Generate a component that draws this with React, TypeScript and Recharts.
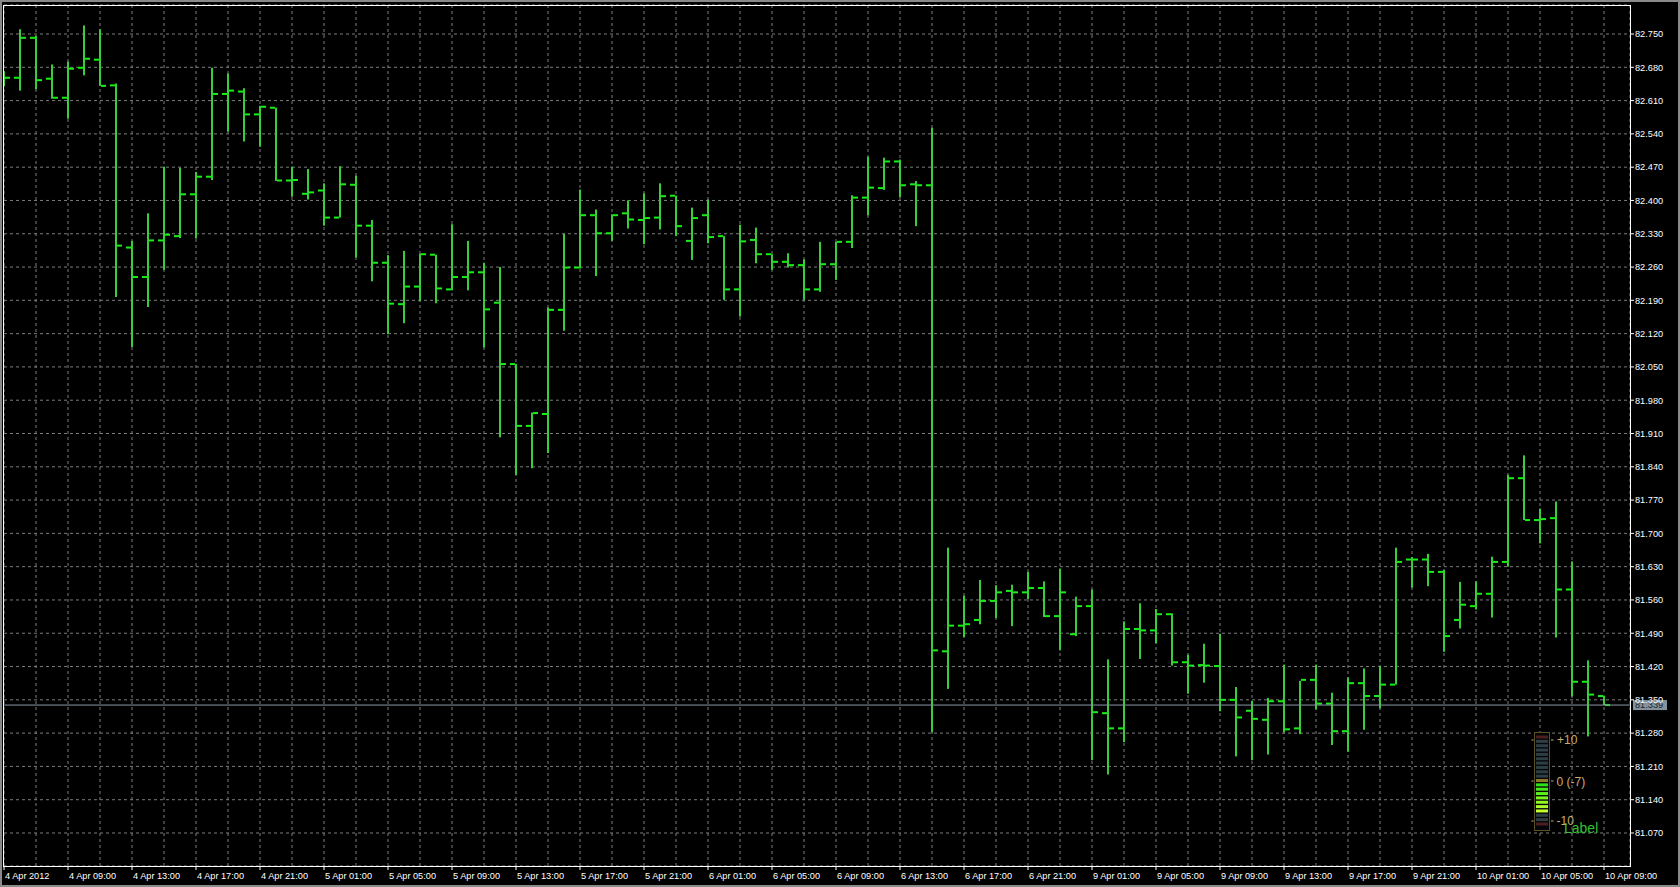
import React from "react";
import {
  ComposedChart,
  Bar,
  XAxis,
  YAxis,
  CartesianGrid,
  ReferenceLine,
} from "recharts";

// USDJPY-style H1 bars, 4 Apr 2012 .. 10 Apr 2012 09:00
const OPEN = [
  82.66, 82.658, 82.742, 82.656, 82.616, 82.679, 82.696, 82.642, 82.301, 82.239,
  82.316, 82.325, 82.413, 82.45, 82.624, 82.629, 82.581, 82.595, 82.442, 82.414,
  82.421, 82.364, 82.433, 82.347, 82.269, 82.182, 82.219, 82.286, 82.213, 82.239,
  82.249, 82.185, 82.056, 81.926, 81.951, 82.17, 82.259, 82.369, 82.331, 82.373,
  82.359, 82.364, 82.41, 82.315, 82.369, 82.325, 82.213, 82.317, 82.287, 82.271,
  82.264, 82.213, 82.266, 82.313, 82.406, 82.426, 82.482, 82.434, 82.432, 81.452,
  81.506, 81.518, 81.558, 81.579, 81.576, 81.585, 81.526, 81.488, 81.547, 81.322,
  81.29, 81.499, 81.496, 81.53, 81.429, 81.423, 81.421, 81.35, 81.327, 81.308,
  81.347, 81.29, 81.392, 81.342, 81.284, 81.385, 81.358, 81.382, 81.645, 81.645,
  81.619, 81.518, 81.547, 81.573, 81.64, 81.816, 81.728, 81.732, 81.582, 81.388,
  81.358,
];
const HIGH = [
  82.672, 82.76, 82.746, 82.686, 82.692, 82.768, 82.76, 82.646, 82.315, 82.373,
  82.471, 82.469, 82.46, 82.679, 82.667, 82.636, 82.599, 82.595, 82.471, 82.466,
  82.436, 82.472, 82.452, 82.359, 82.285, 82.294, 82.288, 82.286, 82.35, 82.315,
  82.269, 82.26, 82.056, 81.954, 82.175, 82.33, 82.423, 82.381, 82.371, 82.4,
  82.415, 82.436, 82.41, 82.385, 82.402, 82.325, 82.349, 82.343, 82.287, 82.289,
  82.276, 82.313, 82.313, 82.411, 82.492, 82.49, 82.486, 82.441, 82.553, 81.67,
  81.569, 81.602, 81.591, 81.592, 81.619, 81.599, 81.626, 81.567, 81.582, 81.435,
  81.515, 81.553, 81.541, 81.532, 81.445, 81.468, 81.489, 81.377, 81.348, 81.354,
  81.424, 81.39, 81.424, 81.365, 81.397, 81.416, 81.421, 81.67, 81.65, 81.657,
  81.623, 81.598, 81.599, 81.651, 81.823, 81.864, 81.752, 81.767, 81.641, 81.433,
  81.358,
];
const LOW = [
  82.64, 82.631, 82.634, 82.614, 82.572, 82.663, 82.641, 82.197, 82.092, 82.176,
  82.254, 82.321, 82.32, 82.443, 82.545, 82.524, 82.513, 82.441, 82.408, 82.402,
  82.347, 82.364, 82.28, 82.23, 82.119, 82.142, 82.188, 82.184, 82.211, 82.211,
  82.091, 81.902, 81.823, 81.837, 81.869, 82.126, 82.257, 82.241, 82.315, 82.341,
  82.308, 82.339, 82.325, 82.275, 82.31, 82.191, 82.156, 82.268, 82.254, 82.259,
  82.191, 82.208, 82.233, 82.3, 82.369, 82.422, 82.407, 82.346, 81.282, 81.373,
  81.482, 81.509, 81.522, 81.505, 81.562, 81.524, 81.454, 81.484, 81.223, 81.193,
  81.261, 81.436, 81.469, 81.422, 81.363, 81.386, 81.326, 81.231, 81.223, 81.235,
  81.282, 81.278, 81.33, 81.255, 81.241, 81.287, 81.332, 81.382, 81.586, 81.589,
  81.451, 81.5, 81.54, 81.523, 81.63, 81.728, 81.679, 81.481, 81.357, 81.273,
  81.339,
];
const CLOSE = [
  82.658, 82.742, 82.653, 82.616, 82.677, 82.698, 82.641, 82.305, 82.239, 82.316,
  82.328, 82.413, 82.45, 82.624, 82.631, 82.581, 82.597, 82.442, 82.443, 82.417,
  82.364, 82.434, 82.347, 82.269, 82.183, 82.219, 82.287, 82.215, 82.239, 82.249,
  82.171, 82.056, 81.926, 81.953, 82.17, 82.259, 82.369, 82.331, 82.369, 82.36,
  82.363, 82.409, 82.346, 82.363, 82.323, 82.213, 82.314, 82.287, 82.271, 82.264,
  82.213, 82.266, 82.313, 82.406, 82.427, 82.482, 82.432, 82.432, 81.454, 81.506,
  81.509, 81.558, 81.576, 81.576, 81.585, 81.526, 81.576, 81.547, 81.324, 81.29,
  81.499, 81.496, 81.53, 81.429, 81.422, 81.422, 81.35, 81.313, 81.31, 81.347,
  81.288, 81.392, 81.342, 81.284, 81.385, 81.358, 81.382, 81.64, 81.645, 81.619,
  81.484, 81.55, 81.573, 81.64, 81.816, 81.728, 81.73, 81.582, 81.388, 81.361,
  81.339,
];

// one label every 4 bars
const TIME_LABELS = [
  "4 Apr 2012", "4 Apr 09:00", "4 Apr 13:00", "4 Apr 17:00", "4 Apr 21:00",
  "5 Apr 01:00", "5 Apr 05:00", "5 Apr 09:00", "5 Apr 13:00", "5 Apr 17:00",
  "5 Apr 21:00", "6 Apr 01:00", "6 Apr 05:00", "6 Apr 09:00", "6 Apr 13:00",
  "6 Apr 17:00", "6 Apr 21:00", "9 Apr 01:00", "9 Apr 05:00", "9 Apr 09:00",
  "9 Apr 13:00", "9 Apr 17:00", "9 Apr 21:00", "10 Apr 01:00", "10 Apr 05:00",
  "10 Apr 09:00",
];

const PRICE_TICKS = [
  81.07, 81.14, 81.21, 81.28, 81.35, 81.42, 81.49, 81.56, 81.63, 81.7, 81.77,
  81.84, 81.91, 81.98, 82.05, 82.12, 82.19, 82.26, 82.33, 82.4, 82.47, 82.54,
  82.61, 82.68, 82.75,
];

const LAST_PRICE = 81.339;
const GAUGE_VALUE = -7;

const Y_MIN = 81.0006;
const Y_MAX = 82.811;
const X_MAX = 101.625;

const FONT = '"Liberation Sans", Arial, sans-serif';
const BAR_LINE = "#3acd3a";
const BAR_TICK = "#14f014";

const data = OPEN.map((o, i) => ({
  i,
  open: o,
  high: HIGH[i],
  low: LOW[i],
  close: CLOSE[i],
  range: [LOW[i], HIGH[i]],
}));

const gridTicks = data.map((d) => d.i).filter((i) => i % 2 === 0);

function OhlcShape(props: any) {
  const { x, y, width, height, payload } = props;
  if (x == null || y == null) return null;
  const cx = Math.round(x + width / 2);
  const top = Math.min(y, y + height);
  const h = Math.abs(height);
  const span = payload.high - payload.low;
  const yOf = (v: number) => (span > 0 ? top + ((payload.high - v) / span) * h : top);
  const yo = yOf(payload.open);
  const yc = yOf(payload.close);
  return (
    <g>
      <rect x={cx - 1} y={top} width={2} height={Math.max(h, 1)} fill={BAR_LINE} />
      <rect x={cx - 6} y={yo - 1} width={5} height={2} fill={BAR_TICK} />
      <rect x={cx + 1} y={yc - 1} width={5} height={2} fill={BAR_TICK} />
    </g>
  );
}

function TimeTick(props: any) {
  const { x, y, payload } = props;
  const idx = payload.value;
  if (idx % 4 !== 0) return null;
  const label = TIME_LABELS[idx / 4];
  return (
    <g>
      <line x1={x} x2={x} y1={y} y2={y + 4} stroke="#ffffff" />
      <text x={x + 1} y={y + 13} fill="#ffffff" fontSize={9.2} fontFamily={FONT}>
        {label}
      </text>
    </g>
  );
}

function PriceTick(props: any) {
  const { x, y, payload } = props;
  return (
    <g>
      <line x1={x} x2={x + 4} y1={y} y2={y} stroke="#ffffff" />
      <text x={x + 5} y={y + 3.3} fill="#ffffff" fontSize={9.2} fontFamily={FONT}>
        {payload.value.toFixed(3)}
      </text>
    </g>
  );
}

function PriceLabel(props: any) {
  const { viewBox } = props;
  if (!viewBox) return null;
  const bx = viewBox.x + viewBox.width + 3;
  const by = viewBox.y - 5;
  return (
    <g>
      <rect x={bx} y={by} width={34} height={10} fill="#8492a0" />
      <text x={bx + 2} y={by + 8.3} fill="#1c232b" fontSize={9.2} fontFamily={FONT}>
        {LAST_PRICE.toFixed(3)}
      </text>
    </g>
  );
}

function Gauge() {
  const levels = Array.from({ length: 21 }, (_, k) => 10 - k);
  const tan = "#c8ad72";
  const greens = ["#2ee21a", "#44ea1c", "#5cf01e", "#78f420", "#92f824", "#aafb28", "#c4ff2e"];
  return (
    <svg
      width={110}
      height={120}
      style={{ position: "absolute", left: 1520, top: 720, overflow: "visible" }}
    >
      <rect x={14.5} y={12.5} width={15} height={98} fill="#050505" stroke="#5a5126" />
      {levels.map((lv, k) => {
        let fill = "#2d3f45";
        if (lv === 10 || lv === -10) fill = "#4c1e22";
        else if (lv === 0) fill = "#8c7a26";
        else if (lv < 0 && lv >= GAUGE_VALUE) fill = greens[-lv - 1];
        return <rect key={k} x={16} y={15.5 + k * 4.35} width={12} height={3} fill={fill} />;
      })}
      {[20, 61, 101].map((yy) => (
        <g key={yy}>
          <line x1={11.5} x2={13.5} y1={yy} y2={yy} stroke={tan} />
          <line x1={31} x2={33.5} y1={yy} y2={yy} stroke={tan} />
        </g>
      ))}
      <text x={37} y={24} fill={tan} fontSize={12} fontFamily={FONT}>+10</text>
      <text x={36.5} y={65.5} fill={tan} fontSize={12} fontFamily={FONT}>0 (-7)</text>
      <text x={36.5} y={105} fill={tan} fontSize={12} fontFamily={FONT}>-10</text>
      <text x={44} y={113} fill="#33c033" fontSize={14} fontFamily={FONT}>Label</text>
    </svg>
  );
}

export default function App() {
  return (
    <div
      style={{
        position: "absolute",
        left: 0,
        top: 0,
        width: 1680,
        height: 887,
        background: "#000000",
        overflow: "hidden",
      }}
    >
      <ComposedChart
        width={1680}
        height={887}
        data={data}
        margin={{ top: 5, right: 4, bottom: 4, left: 4 }}
      >
        <CartesianGrid stroke="#7c7c7c" strokeDasharray="3 3" />
        <XAxis
          dataKey="i"
          type="number"
          domain={[0, X_MAX]}
          allowDataOverflow
          ticks={gridTicks}
          interval={0}
          tick={<TimeTick />}
          tickLine={false}
          axisLine={false}
          tickSize={0}
          tickMargin={0}
          height={17}
        />
        <YAxis
          orientation="right"
          type="number"
          domain={[Y_MIN, Y_MAX]}
          allowDataOverflow
          ticks={PRICE_TICKS}
          interval={0}
          tick={<PriceTick />}
          tickLine={false}
          axisLine={false}
          tickSize={0}
          tickMargin={0}
          width={46}
        />
        <ReferenceLine y={LAST_PRICE} stroke="#8a98a6" label={<PriceLabel />} />
        <Bar
          dataKey="range"
          barSize={12}
          shape={<OhlcShape />}
          isAnimationActive={false}
        />
      </ComposedChart>
      <div
        style={{
          position: "absolute",
          left: 3,
          top: 5,
          width: 1628,
          height: 862,
          border: "1px solid #ffffff",
          boxSizing: "border-box",
          pointerEvents: "none",
        }}
      />
      <Gauge />
      <div
        style={{
          position: "absolute",
          left: 0,
          top: 0,
          width: 1680,
          height: 887,
          border: "2px solid #8a8a8a",
          boxSizing: "border-box",
          pointerEvents: "none",
        }}
      />
    </div>
  );
}
